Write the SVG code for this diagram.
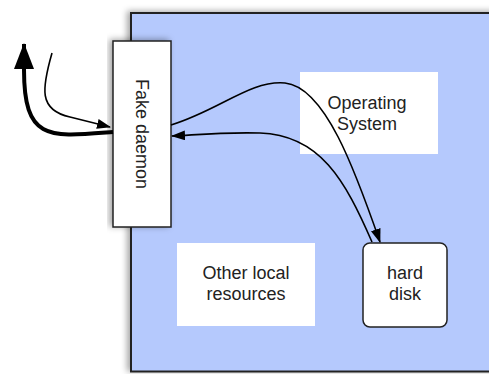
<svg xmlns="http://www.w3.org/2000/svg" width="489" height="374" viewBox="0 0 489 374">
<style>
.lbl{font-family:"Liberation Sans",Arial,sans-serif;font-size:18px;fill:#222;text-anchor:middle}
.box{fill:#fff;stroke:#222;stroke-width:1.5}
.plain{fill:#fff;stroke:none}
.c{fill:none;stroke:#000;stroke-width:1.6}
</style>
<defs>
<filter id="sh" x="-10%" y="-10%" width="120%" height="120%">
<feDropShadow dx="-3" dy="-1" stdDeviation="3" flood-color="#000" flood-opacity="0.35"/>
</filter>
<marker id="a" markerWidth="14" markerHeight="10" refX="13" refY="5" orient="auto" markerUnits="userSpaceOnUse">
<path d="M0,0 L14,5 L0,10 Z" fill="#000"/>
</marker>
<marker id="big" markerWidth="26" markerHeight="20" refX="25" refY="10" orient="auto" markerUnits="userSpaceOnUse">
<path d="M0,0 L26,10 L0,20 Z" fill="#000"/>
</marker>
</defs>
<g id="system">
<rect x="131" y="13" width="370" height="358.5" fill="#b5c9fd" stroke="#222" stroke-width="2" filter="url(#sh)"/>
</g>
<g id="os">
<rect class="plain" x="300" y="72" width="138" height="82"/>
<text class="lbl" x="367" y="109">Operating</text>
<text class="lbl" x="367" y="130">System</text>
</g>
<g id="other">
<rect class="plain" x="177" y="243" width="138" height="83"/>
<text class="lbl" x="246" y="279">Other local</text>
<text class="lbl" x="246" y="300">resources</text>
</g>
<g id="disk">
<rect class="box" x="363" y="243" width="84" height="84" rx="7"/>
<text class="lbl" x="405" y="279">hard</text>
<text class="lbl" x="405" y="300">disk</text>
</g>
<g id="daemon">
<rect class="box" x="113" y="41" width="58" height="186" filter="url(#sh)"/>
<text class="lbl" transform="translate(135.5,134) rotate(90)" x="0" y="0">Fake daemon</text>
</g>
<g id="connectors">
<path class="c" d="M52,53 C42,88 38,110 70,117 L110,127" marker-end="url(#a)"/>
<path fill="none" stroke="#000" stroke-width="4" d="M113,132 C50,137 24,142 24,70 L24,44" marker-end="url(#big)"/>
<path class="c" d="M171,125 C220,110 250,80 285,83 C325,87 355,170 380,242" marker-end="url(#a)"/>
<path class="c" d="M372,242 C345,180 320,135 260,133 C220,132 195,135 172,136" marker-end="url(#a)"/>
</g>
</svg>
